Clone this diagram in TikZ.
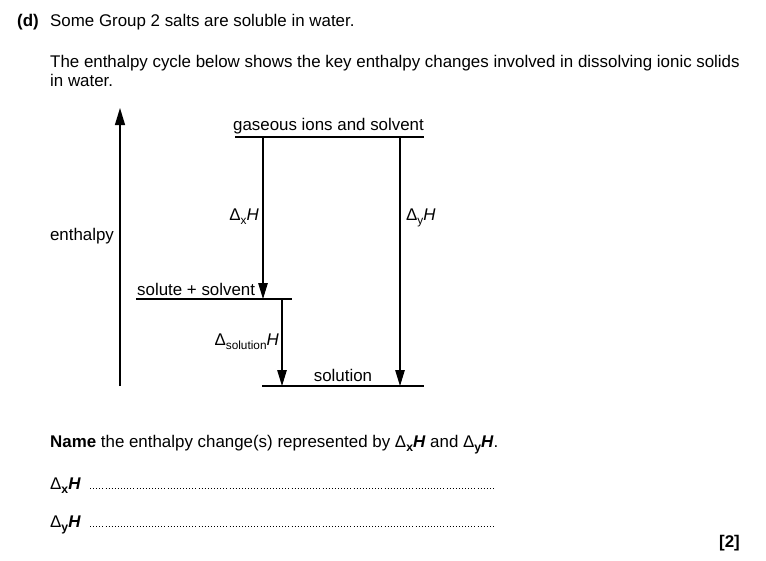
\documentclass[tikz,border=0pt]{standalone}
\usepackage{fontspec}
\setmainfont{Liberation Sans}
\usetikzlibrary{arrows.meta}
\newcommand\sbs[1]{\raisebox{-0.5ex}{\fontsize{11.8}{12}\selectfont #1}}
\newcommand\sbsb[1]{\raisebox{-0.5ex}{\fontsize{12.2}{12}\selectfont\bfseries #1}}
\begin{document}
\begin{tikzpicture}[x=1pt,y=-1pt,
  txt/.style={inner sep=0pt,font=\fontsize{16.9}{19}\selectfont},
  level/.style={line width=1.2pt},
  down/.style={line width=1.1pt,-{Triangle[length=16pt,width=9.5pt]}},
  dotline/.style={line width=1.1pt,dash pattern=on 1pt off 2.1pt,line cap=butt}]
\useasboundingbox (0,0) rectangle (766,560);
% header text
\node[txt,anchor=base west,font=\fontsize{16.9}{19}\selectfont\bfseries] (d) at (17,26) {(d)};
\node[txt,anchor=base west] (q1) at (50,26) {Some Group 2 salts are soluble in water.};
\node[txt,anchor=base west] (p1) at (50,67) {The enthalpy cycle below shows the key enthalpy changes involved in dissolving ionic solids};
\node[txt,anchor=base west] (p2) at (50,86) {in water.};
% enthalpy axis
\coordinate (ab) at (120,386);
\coordinate (at) at (120,108);
\draw[line width=1.2pt,-{Triangle[length=17pt,width=10pt]}] (ab) -- (at);
\node[txt,anchor=base] (enth) at (82,240) {enthalpy};
% levels
\coordinate (t1) at (235,137); \coordinate (t2) at (424,137);
\coordinate (m1) at (136,299); \coordinate (m2) at (292,299);
\coordinate (b1) at (262,386); \coordinate (b2) at (424,386);
\draw[level] (t1) -- (t2);
\draw[level] (m1) -- (m2);
\draw[level] (b1) -- (b2);
\node[txt,anchor=base] (gas) at (328.5,130) {gaseous ions and solvent};
\node[txt,anchor=base west] (sol) at (137,295) {solute + solvent};
\node[txt,anchor=base] (solution) at (343,381) {solution};
% arrows
\coordinate (xa) at (263,137); \coordinate (xb) at (263,299);
\coordinate (ya) at (400,137); \coordinate (yb) at (400,386);
\coordinate (sa) at (282,299); \coordinate (sb) at (282,386);
\draw[down] (xa) -- (xb);
\draw[down] (ya) -- (yb);
\draw[down] (sa) -- (sb);
\node[txt,anchor=base east] (lx) at (259,220) {Δ\sbs{x}\textit{H}};
\node[txt,anchor=base west] (ly) at (406,220) {Δ\sbs{y}\textit{H}};
\node[txt,anchor=base east] (ls) at (279,345) {Δ\sbs{solution}\textit{H}};
% question
\node[txt,anchor=base west] (name) at (50,447) {\textbf{Name} the enthalpy change(s) represented by Δ\sbsb{x}\textbf{\textit{H}} and Δ\sbsb{y}\textbf{\textit{H}}.};
\node[txt,anchor=base west] (ax) at (50,489) {Δ\sbsb{x}\textbf{\textit{H}}};
\node[txt,anchor=base west] (ay) at (50,527) {Δ\sbsb{y}\textbf{\textit{H}}};
\coordinate (dx1) at (90,488.5); \coordinate (dx2) at (494,488.5);
\coordinate (dy1) at (90,526.5); \coordinate (dy2) at (494,526.5);
\draw[dotline] (dx1) -- (dx2);
\draw[dotline] (dy1) -- (dy2);
\node[txt,anchor=base east,font=\fontsize{16.9}{19}\selectfont\bfseries] (mk) at (740,547) {[2]};
\end{tikzpicture}
\end{document}
